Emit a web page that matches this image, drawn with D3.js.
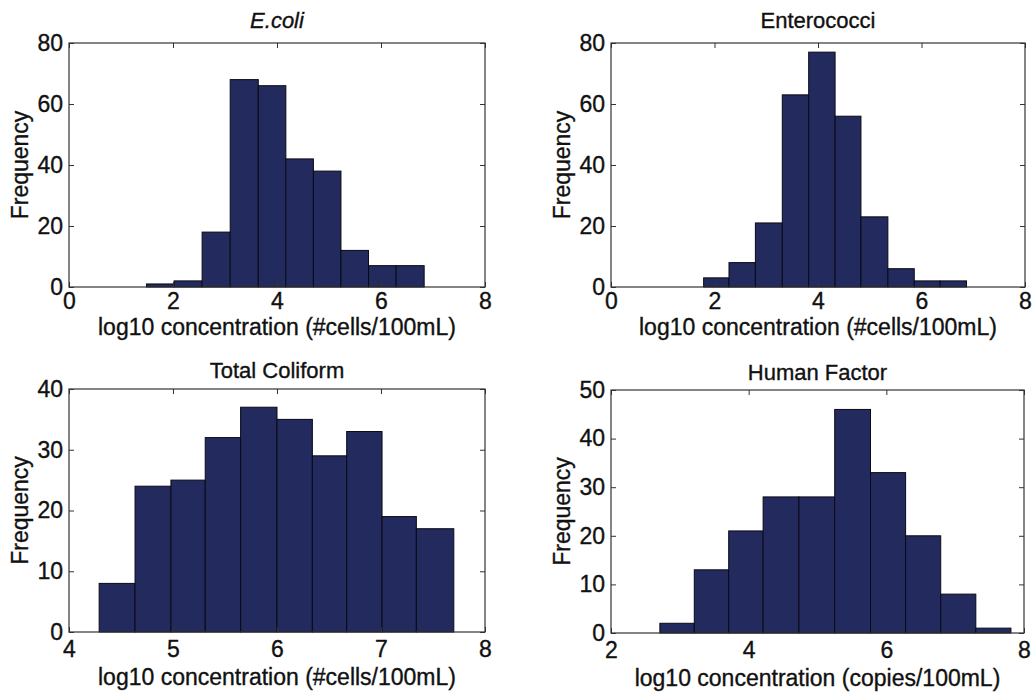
<!DOCTYPE html>
<html>
<head>
<meta charset="utf-8">
<script src="https://cdn.jsdelivr.net/npm/d3@7"></script>
<style>
  body { margin: 0; background: #fff; }
  svg text { font-family: "Liberation Sans", Arial, sans-serif; fill: #111; stroke: #111; stroke-width: 0.35px; }
</style>
</head>
<body>
<div id="chart"></div>
<script>
// bin edges (log10 units) and counts
const ecoliEdges = [1.49, 2.02, 2.56, 3.10, 3.64, 4.17, 4.70, 5.23, 5.76, 6.29, 6.83];
const ecoliCounts = [1, 2, 18, 68, 66, 42, 38, 12, 7, 7];

const enteroEdges = [1.79, 2.28, 2.79, 3.31, 3.82, 4.33, 4.83, 5.35, 5.86, 6.36, 6.87];
const enteroCounts = [3, 8, 21, 63, 77, 56, 23, 6, 2, 2];

const coliformEdges = [4.29, 4.635, 4.98, 5.31, 5.65, 6.00, 6.34, 6.67, 7.01, 7.34, 7.70];
const coliformCounts = [8, 24, 25, 32, 37, 35, 29, 33, 19, 17];

const humanEdges = [2.71, 3.21, 3.71, 4.21, 4.73, 5.25, 5.77, 6.28, 6.79, 7.30, 7.81];
const humanCounts = [2, 13, 21, 28, 28, 46, 33, 20, 8, 1];

const titles = ["E.coli", "Enterococci", "Total Coliform", "Human Factor"];
const xLabels = [
    "log10 concentration (#cells/100mL)",
    "log10 concentration (#cells/100mL)",
    "log10 concentration (#cells/100mL)",
    "log10 concentration (copies/100mL)"
];
const xDomains = [[0, 8], [0, 8], [4, 8], [2, 8]];
const xTicks = [[0, 2, 4, 6, 8], [0, 2, 4, 6, 8], [4, 5, 6, 7, 8], [2, 4, 6, 8]];
const yDomains = [[0, 80], [0, 80], [0, 40], [0, 50]];
const yTicks = [[0, 20, 40, 60, 80], [0, 20, 40, 60, 80], [0, 10, 20, 30, 40], [0, 10, 20, 30, 40, 50]];

const panels = [
    { edges: ecoliEdges, counts: ecoliCounts, left: 69, top: 43, w: 416, h: 244, italic: true, titleY: -15, tickY: 22, labelY: 48 },
    { edges: enteroEdges, counts: enteroCounts, left: 611, top: 43, w: 414, h: 244, titleY: -15, tickY: 22, labelY: 48 },
    { edges: coliformEdges, counts: coliformCounts, left: 69, top: 389, w: 416, h: 243, titleY: -11, tickY: 25, labelY: 53 },
    { edges: humanEdges, counts: humanCounts, left: 611, top: 390, w: 413, h: 243, titleY: -10, tickY: 25, labelY: 53 }
];

const width = 1034;
const height = 696;
const fontSize = 23;
const tickLen = 5;

const svg = d3.select("#chart")
    .append("svg")
    .attr("width", width)
    .attr("height", height);

panels.forEach((p, i) => {
    const g = svg.append("g").attr("transform", `translate(${p.left},${p.top})`);

    const x = d3.scaleLinear().domain(xDomains[i]).range([0, p.w]);
    const y = d3.scaleLinear().domain(yDomains[i]).range([p.h, 0]);

    const bins = p.counts.map((c, k) => ({ x0: p.edges[k], x1: p.edges[k + 1], n: c }));

    g.selectAll("rect.bar")
        .data(bins)
        .enter().append("rect")
        .attr("class", "bar")
        .attr("x", d => x(d.x0))
        .attr("width", d => x(d.x1) - x(d.x0))
        .attr("y", d => y(d.n))
        .attr("height", d => y(0) - y(d.n))
        .attr("fill", "#222a5e")
        .attr("stroke", "#0a0a14")
        .attr("stroke-width", 1);

    // inward ticks on all four sides, matlab style
    const axisOpts = (axis, ticks) => axis.tickValues(ticks).tickSizeInner(-tickLen).tickSizeOuter(0).tickPadding(10);

    g.append("g")
        .attr("transform", `translate(0,${p.h})`)
        .call(axisOpts(d3.axisBottom(x), xTicks[i]).tickFormat(d3.format("d")))
        .call(a => a.selectAll("text").attr("dy", null).attr("y", p.tickY));
    g.append("g")
        .call(axisOpts(d3.axisTop(x), xTicks[i]).tickFormat(""));
    g.append("g")
        .call(axisOpts(d3.axisLeft(y), yTicks[i]).tickFormat(d3.format("d")))
        .call(a => a.selectAll("text").attr("x", -6));
    g.append("g")
        .attr("transform", `translate(${p.w},0)`)
        .call(axisOpts(d3.axisRight(y), yTicks[i]).tickFormat(""));

    g.selectAll(".domain").remove();
    g.selectAll(".tick line").attr("stroke", "#333");
    g.selectAll(".tick text")
        .style("font-size", `${fontSize}px`)
        .attr("fill", "#111");

    g.append("rect")
        .attr("width", p.w)
        .attr("height", p.h)
        .attr("fill", "none")
        .attr("stroke", "#333")
        .attr("stroke-width", 1.2);

    g.append("text")
        .attr("x", p.w / 2)
        .attr("y", p.titleY)
        .attr("text-anchor", "middle")
        .style("font-size", `${fontSize - 1}px`)
        .style("font-style", p.italic ? "italic" : "normal")
        .text(titles[i]);

    g.append("text")
        .attr("x", p.w / 2)
        .attr("y", p.h + p.labelY)
        .attr("text-anchor", "middle")
        .style("font-size", `${fontSize}px`)
        .text(xLabels[i]);

    g.append("text")
        .attr("transform", `translate(-41,${p.h / 2}) rotate(-90)`)
        .attr("text-anchor", "middle")
        .style("font-size", `${fontSize}px`)
        .text("Frequency");
});
</script>
</body>
</html>
